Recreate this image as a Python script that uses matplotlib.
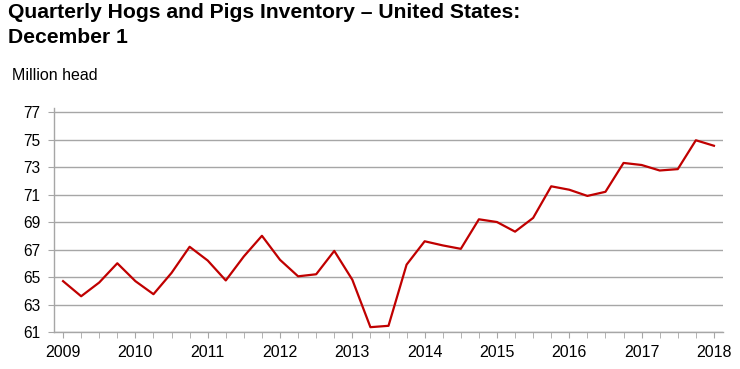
import numpy as np
import matplotlib.pyplot as plt

plt.rcParams['font.family'] = ['Liberation Sans', 'DejaVu Sans']

# Quarterly inventory, Dec 2008 (plotted at 2009) through Dec 2017 (plotted at 2018)
inventory = [64.7, 63.6, 64.6, 66.0,
             64.7, 63.75, 65.3, 67.2,
             66.2, 64.75, 66.5, 68.0,
             66.25, 65.05, 65.2, 66.9,
             64.8, 61.35, 61.45, 65.9,
             67.6, 67.3, 67.05, 69.2,
             69.0, 68.3, 69.3, 71.6,
             71.35, 70.9, 71.2, 73.3,
             73.15, 72.75, 72.85, 74.95,
             74.55]
years = list(range(2009, 2019))
y_ticks = list(range(61, 78, 2))

x = np.arange(len(inventory))

fig = plt.figure(figsize=(7.4, 3.69), dpi=100)
ax = fig.add_axes([0.073, 0.1003, 0.904, 0.606])

ax.plot(x, inventory, color='#C00000', linewidth=1.6)

ax.set_xlim(-0.5, len(inventory) - 0.5)
ax.set_ylim(61, 77.27)
ax.set_yticks(y_ticks)
ax.set_xticks(x, minor=True)
ax.set_xticks(x[::4])
ax.set_xticklabels([str(y) for y in years])

ax.grid(axis='y', color='#A6A6A6', linewidth=1.0)
ax.set_axisbelow(True)
for s in ['top', 'right']:
    ax.spines[s].set_visible(False)
for s in ['left', 'bottom']:
    ax.spines[s].set_color('#A6A6A6')
    ax.spines[s].set_linewidth(1.0)

ax.tick_params(axis='y', length=4, color='#A6A6A6', labelsize=11.2, pad=6)
ax.tick_params(axis='x', which='both', length=4, color='#A6A6A6', labelsize=11.5, pad=5.5)

fig.text(0.0108, 1 - 18 / 369, 'Quarterly Hogs and Pigs Inventory \u2013 United States:',
         fontsize=15.2, fontweight='bold', va='baseline', ha='left')
fig.text(0.0108, 1 - 43 / 369, 'December 1',
         fontsize=15.2, fontweight='bold', va='baseline', ha='left')
fig.text(0.0162, 1 - 80 / 369, 'Million head', fontsize=11.5, va='baseline', ha='left')

fig.savefig('out.png', dpi=100)
